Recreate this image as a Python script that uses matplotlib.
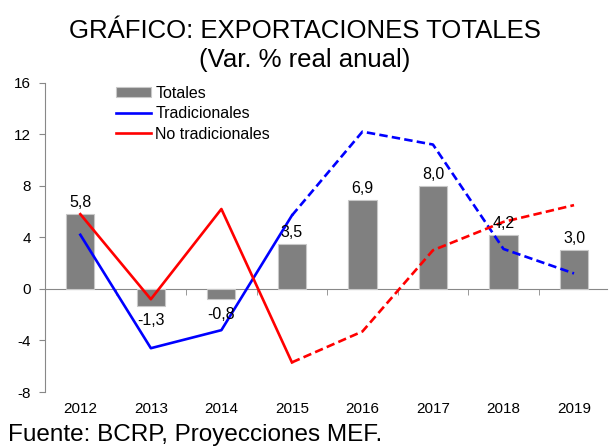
import matplotlib
matplotlib.use("Agg")
import matplotlib.pyplot as plt
import numpy as np

plt.rcParams['font.family'] = ['Liberation Sans', 'DejaVu Sans']

years = ["2012", "2013", "2014", "2015", "2016", "2017", "2018", "2019"]
totales = [5.8, -1.3, -0.8, 3.5, 6.9, 8.0, 4.2, 3.0]
tradicionales = [4.2, -4.6, -3.2, 5.7, 12.2, 11.2, 3.1, 1.2]
no_tradicionales = [5.8, -0.8, 6.2, -5.7, -3.3, 3.0, 5.2, 6.5]
bar_labels = ["5,8", "-1,3", "-0,8", "3,5", "6,9", "8,0", "4,2", "3,0"]
split = 3  # last historical index (2015)

fig = plt.figure(figsize=(6.09, 4.47), dpi=100)
ax = fig.add_axes([0.074, 0.123, 0.923, 0.692])

x = np.arange(len(years))
hb = ax.bar(x, totales, width=0.4, color="#808080", edgecolor="#c8c8c8", linewidth=0.8, label="Totales", zorder=2)

lw = 1.9
dash = (0, (3.2, 1.6))
h1, = ax.plot(x[:split + 1], tradicionales[:split + 1], color="#0000ff", lw=lw, label="Tradicionales", zorder=3)
ax.plot(x[split:], tradicionales[split:], color="#0000ff", lw=lw, linestyle=dash, zorder=3)
h2, = ax.plot(x[:split + 1], no_tradicionales[:split + 1], color="#ff0000", lw=lw, label="No tradicionales", zorder=3)
ax.plot(x[split:], no_tradicionales[split:], color="#ff0000", lw=lw, linestyle=dash, zorder=3)

for xi, v, lab in zip(x, totales, bar_labels):
    if v >= 0:
        ax.text(xi, v + 0.3, lab, ha="center", va="bottom", fontsize=11.5)
    else:
        ax.text(xi, v - 0.6, lab, ha="center", va="top", fontsize=11.5)

ax.set_xlim(-0.5, 7.47)
ax.set_ylim(-8, 16)
ax.set_yticks(np.arange(-8, 17, 4))
ax.set_yticklabels([str(t) for t in range(-8, 17, 4)], fontsize=11)
ax.tick_params(axis="y", length=4, color="#888888", pad=6)

for s in ["top", "right"]:
    ax.spines[s].set_visible(False)
ax.spines["left"].set_color("#888888")
ax.spines["bottom"].set_position(("data", 0))
ax.spines["bottom"].set_color("#888888")
ax.spines["bottom"].set_zorder(1)

ax.set_xticks(x)
ax.set_xticklabels([])
ax.tick_params(axis="x", which="major", length=0)
ax.set_xticks(np.arange(0.5, 7, 1), minor=True)
ax.tick_params(axis="x", which="minor", length=4, color="#888888", direction="out")

sec = ax.secondary_xaxis(0)
sec.set_xticks(x)
sec.set_xticklabels(years, fontsize=11)
sec.tick_params(length=0, pad=7)
sec.spines["bottom"].set_visible(False)

ax.legend([hb, h1, h2], ["Totales", "Tradicionales", "No tradicionales"],
          loc="upper left", bbox_to_anchor=(0.114, 1.01), frameon=False, fontsize=11.5,
          handlelength=2.2, handleheight=0.6, handletextpad=0.3, labelspacing=0.33, borderaxespad=0)

fig.text(0.5, 1 - 38.3 / 447, "GRÁFICO: EXPORTACIONES TOTALES", ha="center", va="baseline", fontsize=18.5)
fig.text(0.5, 1 - 66.7 / 447, "(Var. % real anual)", ha="center", va="baseline", fontsize=18.5)
fig.text(0.013, 6 / 447, "Fuente: BCRP, Proyecciones MEF.", ha="left", va="baseline", fontsize=17.5)

fig.savefig("out.png", dpi=100)
